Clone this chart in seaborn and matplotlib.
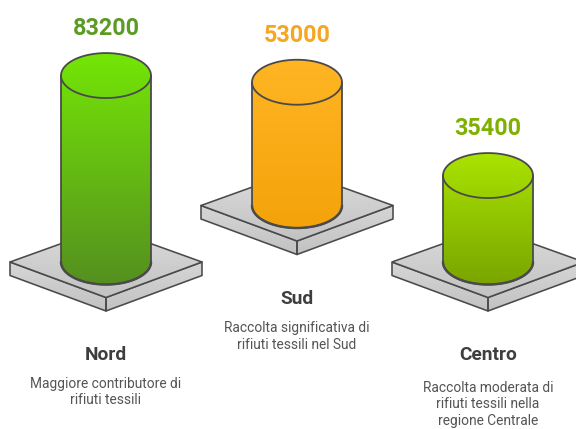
import numpy as np
import pandas as pd
import matplotlib
matplotlib.use("Agg")
import matplotlib.pyplot as plt
from matplotlib.colors import to_rgb
from matplotlib.patches import PathPatch, Polygon
from matplotlib.path import Path
import seaborn as sns

regioni = ["Nord", "Sud", "Centro"]
valori = [83200, 53000, 35400]
descrizioni = ["Maggiore contributore di\nrifiuti tessili",
               "Raccolta significativa di\nrifiuti tessili nel Sud",
               "Raccolta moderata di\nrifiuti tessili nella\nregione Centrale"]
grad_alto = ["#74E606", "#FFB524", "#AAE400"]
grad_basso = ["#55901F", "#F4A30A", "#7AA500"]
col_valore = ["#5C9A24", "#F5A623", "#7FB000"]

# layout
UX = 1 / 191          # data x per pixel
UY = 478              # data y per pixel
Y0_PX = 249.6         # pixel row of y = 0
X0_PX = 106           # pixel column of first category
PIEDE = 12.4 * UY     # cylinder stub below value zero
ELEV = [0, 56.5 * UY, 0]
EDGE = "#4A4A4A"
LW = 1.15

def py(px):
    return (Y0_PX - px) * UY

sns.set_theme(style="white")
plt.rcParams["font.family"] = ["Roboto", "DejaVu Sans"]

fig = plt.figure(figsize=(5.76, 4.29), dpi=100)
ax = fig.add_axes([0, 0, 1, 1])
ax.set_facecolor("white")

df = pd.DataFrame({"regione": regioni, "valore": valori})
df["altezza"] = df["valore"] + PIEDE


def gradient(x0, x1, y0, y1, c_top, c_bot, clip, z):
    t = np.linspace(0, 1, 128)[:, None, None]
    img = (1 - t) * np.array(to_rgb(c_top))[None, None, :] + t * np.array(to_rgb(c_bot))[None, None, :]
    im = ax.imshow(img, extent=(x0, x1, y0, y1), origin="upper", aspect="auto",
                   interpolation="bilinear", zorder=z)
    im.set_clip_path(clip)


def face(pts, c_top, c_bot, z):
    poly = Polygon(pts, closed=True, fc="none", ec=EDGE, lw=LW, zorder=z + 0.1, joinstyle="round")
    ax.add_patch(poly)
    p = np.array(pts)
    gradient(p[:, 0].min(), p[:, 0].max(), p[:, 1].min(), p[:, 1].max(), c_top, c_bot, poly, z)


def platform(xc, ybase, z):
    hw, dy_up, dy_down, th = 96 * UX, 34.5 * UY, 35.5 * UY, 13.5 * UY
    l = (xc - hw, ybase)
    r = (xc + hw, ybase)
    t = (xc, ybase + dy_up)
    b = (xc, ybase - dy_down)
    bb = (xc, ybase - dy_down - th)
    ll = (xc - hw, ybase - th)
    rl = (xc + hw, ybase - th)
    face([l, b, bb, ll], "#D6D6D6", "#C2C2C2", z)
    face([r, b, bb, rl], "#D6D6D6", "#C2C2C2", z)
    face([l, t, r, b], "#DCDCDC", "#C2C2C2", z + 0.2)


for i, reg in enumerate(regioni):
    base = ELEV[i] - PIEDE
    platform(i, base, 2)
    sns.barplot(data=df[df["regione"] == reg], x="regione", y="altezza", order=regioni,
                color=grad_basso[i], saturation=1, width=90 / 191, bottom=base,
                linewidth=0, ax=ax, zorder=3)
    bar = ax.containers[-1].patches[-1]
    x0, w = bar.get_x(), bar.get_width()
    yb, yt = bar.get_y(), bar.get_y() + bar.get_height()
    cx, a, c = x0 + w / 2, w / 2, 22.5 * UY

    th = np.linspace(0, np.pi, 80)
    # body outline: top arc, right side, bottom arc, left side
    top_xy = np.c_[cx + a * np.cos(th), yt + c * np.sin(th)]
    bot_xy = np.c_[cx - a * np.cos(th), yb - c * np.sin(th)]
    outline = np.vstack([top_xy, bot_xy, top_xy[:1]])
    body = PathPatch(Path(outline), fc="none", ec=EDGE, lw=LW + 0.15, zorder=4.1)
    ax.add_patch(body)
    gradient(x0, x0 + w, yb - c, yt + c, grad_alto[i], grad_basso[i], body, 4)
    # front rim of the cap and heavier foot arc
    ax.plot(cx - a * np.cos(th), yt - c * np.sin(th), color=EDGE, lw=LW + 0.15, zorder=4.2)
    ax.plot(cx - a * np.cos(th), yb - c * np.sin(th), color=EDGE, lw=LW + 0.6, zorder=4.2)

    ax.text(i, yt + 49.5 * UY, str(valori[i]), ha="center", va="center_baseline",
            fontsize=16.8, fontweight="bold", color=col_valore[i], zorder=6)
    ax.text(i, base - 91 * UY, reg, ha="center", va="center_baseline",
            fontsize=13.8, fontweight="bold", color="#3E3E3E", zorder=6)

desc_px = [392, 336.5, 404.5]
for i, d in enumerate(descrizioni):
    ax.text(i, py(desc_px[i]), d, ha="center", va="center", fontsize=9.9,
            color="#555555", linespacing=1.2, zorder=6)

ax.set_xlim(-X0_PX * UX, (576 - X0_PX) * UX)
ax.set_ylim(py(429), py(0))
ax.set_axis_off()
fig.savefig("out.png", dpi=100, facecolor="white")
